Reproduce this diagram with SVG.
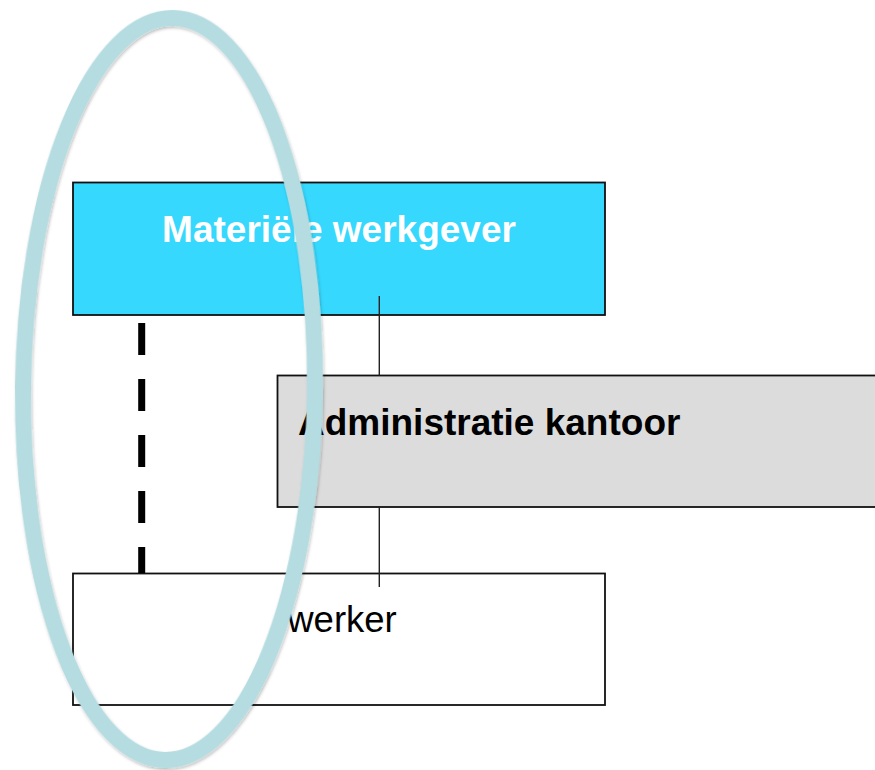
<svg xmlns="http://www.w3.org/2000/svg" width="875" height="770" viewBox="0 0 875 770">
  <style>
    .box { stroke: #111; stroke-width: 1.8; }
    .label { font-family: "Liberation Sans", Arial, sans-serif; font-size: 36.5px; }
    .bold { font-weight: bold; font-size: 37px; }
    .link { stroke: #222; stroke-width: 1.4; fill: none; }
    .dash { stroke: #000; stroke-width: 7; stroke-dasharray: 32 24; fill: none; }
  </style>
  <defs>
    <filter id="soft-shadow" x="-10%" y="-5%" width="120%" height="110%">
      <feDropShadow dx="1" dy="2" stdDeviation="1.5" flood-color="#000" flood-opacity="0.25"/>
    </filter>
  </defs>

  <rect width="875" height="770" fill="#fff"/>

  <g id="materiele-werkgever">
    <rect class="box" x="73" y="182.5" width="532" height="132.5" fill="#36d8fe"/>
    <text class="label bold" x="339" y="242" text-anchor="middle" fill="#fff">Materiële werkgever</text>
  </g>

  <g id="administratie-kantoor">
    <rect class="box" x="277.5" y="375.5" width="620" height="131.5" fill="#dcdcdc"/>
    <text class="label bold" x="298" y="434.5" fill="#000">Administratie kantoor</text>
  </g>

  <g id="werker">
    <rect class="box" x="73" y="573.5" width="532" height="131.5" fill="#fff"/>
    <text class="label" x="342" y="632" text-anchor="middle" fill="#000">werker</text>
  </g>

  <g id="connectors">
    <line class="dash" x1="141.7" y1="323" x2="141.7" y2="573"/>
    <line class="link" x1="379.3" y1="296" x2="379.3" y2="375.5"/>
    <line class="link" x1="379.3" y1="507" x2="379.3" y2="587"/>
  </g>

  <g id="highlight">
    <ellipse cx="169" cy="389" rx="146" ry="371" fill="none" stroke="#b5dce0" stroke-width="16"
             transform="rotate(0.6 169 389)" filter="url(#soft-shadow)"/>
  </g>
</svg>
